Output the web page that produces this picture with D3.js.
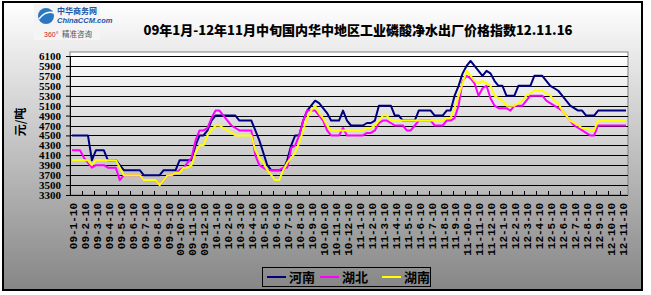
<!DOCTYPE html>
<html>
<head>
<meta charset="utf-8">
<script src="https://cdn.jsdelivr.net/npm/d3@7"></script>
<style>
  body { margin: 0; background: #fff; }
  svg { display: block; }
</style>
</head>
<body>
<svg width="651" height="295"></svg>
<script>
// x轴标签（每3个点一个）
const tickLabels = [
  "09-1-10","09-2-10","09-3-10","09-4-10","09-5-10","09-6-10","09-7-10","09-8-10","09-9-10","09-10-10","09-11-10","09-12-10",
  "10-1-10","10-2-10","10-3-10","10-4-10","10-5-10","10-6-10","10-7-10","10-8-10","10-9-10","10-10-10","10-11-10","10-12-10",
  "11-1-10","11-2-10","11-3-10","11-4-10","11-5-10","11-6-10","11-7-10","11-8-10","11-9-10","11-10-10","11-11-10","11-12-10",
  "12-1-10","12-2-10","12-3-10","12-4-10","12-5-10","12-6-10","12-7-10","12-8-10","12-9-10","12-10-10","12-11-10"
];
const yTicks = [3300, 3500, 3700, 3900, 4100, 4300, 4500, 4700, 4900, 5100, 5300, 5500, 5700, 5900, 6100];

const seriesNames = ["河南", "湖北", "湖南"];
const seriesColors = ["#000080", "#ff00ff", "#ffff00"];

// 河南
const henan = [
  4500,4500,4500,4500,4500,4000,4200,4200,4200,4000,
  4000,4000,3900,3800,3800,3800,3800,3800,3700,3700,
  3700,3700,3700,3800,3800,3800,3800,4000,4000,4000,
  4000,4300,4500,4500,4600,4800,4900,4900,4900,4900,
  4900,4900,4800,4800,4800,4800,4600,4400,4150,3900,
  3800,3800,3800,3800,4000,4300,4500,4500,4800,5000,
  5100,5200,5150,5050,4950,4800,4800,4800,5000,4800,
  4700,4700,4700,4700,4750,4750,4800,5100,5100,5100,
  5100,4900,4900,4800,4800,4800,4800,5000,5000,5000,
  5000,4900,4900,4900,5000,5000,5300,5500,5750,5900,
  6000,5900,5800,5700,5800,5750,5600,5500,5500,5300,
  5300,5300,5500,5500,5500,5500,5700,5700,5700,5600,
  5500,5450,5400,5300,5200,5100,5050,5000,5000,4900,
  4900,4900,5000,5000,5000,5000,5000,5000,5000,5000
];
// 湖北
const hubei = [
  4200,4200,4200,4050,3950,3850,3900,3900,3900,3850,
  3850,3850,3600,3700,3700,3700,3700,3700,3600,3600,
  3600,3600,3500,3600,3700,3700,3750,3800,3850,3950,
  4050,4400,4600,4600,4650,4850,5000,5000,4900,4800,
  4700,4650,4600,4600,4600,4600,4100,3900,3850,3800,
  3800,3800,3800,3850,3850,4250,4300,4500,4800,5000,
  5000,5000,4900,4800,4600,4500,4500,4500,4650,4500,
  4500,4500,4500,4500,4550,4550,4600,4750,4800,4800,
  4750,4700,4700,4700,4600,4600,4700,4800,4800,4800,
  4800,4700,4700,4700,4800,4800,4850,5100,5600,5700,
  5650,5550,5300,5450,5500,5250,5100,5050,5050,5050,
  5000,5100,5100,5100,5200,5300,5300,5300,5300,5200,
  5150,5100,5050,5000,4900,4800,4700,4650,4600,4550,
  4500,4500,4700,4700,4700,4700,4700,4700,4700,4700
];
// 湖南
const hunan = [
  4000,4000,4000,4000,4000,3900,4000,4000,4000,4000,
  4000,4000,3850,3700,3700,3700,3700,3700,3600,3600,
  3600,3600,3500,3600,3700,3700,3750,3750,3850,3850,
  3900,4150,4300,4300,4500,4600,4700,4700,4650,4600,
  4550,4500,4500,4500,4500,4500,4200,4050,3950,3800,
  3700,3600,3600,3800,3950,4050,4150,4350,4600,4850,
  5000,5100,4950,4850,4700,4600,4600,4600,4600,4600,
  4600,4600,4600,4600,4650,4650,4700,4800,4900,4900,
  4800,4800,4800,4800,4800,4800,4800,4800,4800,4800,
  4800,4800,4800,4800,4850,4850,5050,5300,5550,5800,
  5700,5600,5550,5600,5550,5500,5300,5250,5200,5100,
  5100,5100,5150,5200,5300,5350,5400,5400,5400,5350,
  5300,5200,5150,5000,4900,4800,4750,4700,4650,4650,
  4600,4600,4800,4800,4800,4800,4800,4800,4800,4800
];

const series = [henan, hubei, hunan];

const svg = d3.select("svg");

//绘图区
const plotL = 70, plotR = 628, plotT = 52, plotB = 195;

const defs = svg.append("defs");
const bg = defs.append("linearGradient").attr("id", "bg")
  .attr("x1", 0).attr("y1", 0).attr("x2", 0).attr("y2", 1);
bg.append("stop").attr("offset", "0%").attr("stop-color", "#ffffff");
bg.append("stop").attr("offset", "100%").attr("stop-color", "#868686");
const pbg = defs.append("linearGradient").attr("id", "pbg")
  .attr("x1", 0).attr("y1", 0).attr("x2", 0).attr("y2", 1);
pbg.append("stop").attr("offset", "0%").attr("stop-color", "#ffffff");
pbg.append("stop").attr("offset", "100%").attr("stop-color", "#b8b8b8");

// 外框
svg.append("rect")
  .attr("x", 3).attr("y", 2).attr("width", 639).attr("height", 288)
  .attr("fill", "url(#bg)").attr("stroke", "#000").attr("stroke-width", 2);

// logo
const logo = svg.append("g");
logo.append("rect").attr("x", 34).attr("y", 4).attr("width", 66).attr("height", 36)
  .attr("fill", "#f4f4f4");
logo.append("circle").attr("cx", 46).attr("cy", 16).attr("r", 8).attr("fill", "#2a78c2");
logo.append("path").attr("d", "M39,19 Q46,10 54,13").attr("stroke", "#fff")
  .attr("stroke-width", 1.5).attr("fill", "none");
logo.append("text").attr("x", 57).attr("y", 14).text("中华商务网")
  .attr("font-family", "Noto Sans CJK SC").attr("font-size", 8).attr("font-weight", "bold").attr("fill", "#1b55a8");
logo.append("text").attr("x", 57).attr("y", 23).text("ChinaCCM.com")
  .attr("font-family", "Liberation Sans").attr("font-size", 7.5).attr("font-weight", "bold").attr("font-style", "italic").attr("fill", "#1b55a8");
logo.append("text").attr("x", 44).attr("y", 37).text("360°")
  .attr("font-family", "Liberation Sans").attr("font-size", 7).attr("fill", "#d02020");
logo.append("text").attr("x", 62).attr("y", 37).text("精准咨询")
  .attr("font-family", "Noto Sans CJK SC").attr("font-size", 7.5).attr("fill", "#555");

// 标题
svg.append("text")
  .attr("x", 358).attr("y", 35)
  .attr("text-anchor", "middle")
  .attr("font-family", "Noto Sans CJK SC")
  .attr("font-weight", "900")
  .attr("font-size", 13)
  .text("09年1月-12年11月中旬国内华中地区工业磷酸净水出厂价格指数12.11.16");

const x = d3.scaleBand().domain(d3.range(henan.length)).range([plotL, plotR]);
const y = d3.scaleLinear().domain([3300, 6100]).range([plotB, 56]);

svg.append("rect")
  .attr("x", plotL).attr("y", plotT).attr("width", plotR - plotL).attr("height", plotB - plotT)
  .attr("fill", "url(#pbg)").attr("stroke", "#808080").attr("stroke-width", 1);

// 网格线
svg.append("g").selectAll("line").data(yTicks).join("line")
  .attr("x1", plotL).attr("x2", plotR)
  .attr("y1", d => Math.round(y(d)) + 0.5).attr("y2", d => Math.round(y(d)) + 0.5)
  .attr("stroke", "#000").attr("stroke-width", 1);

// y轴
const yAxis = svg.append("g")
  .attr("transform", `translate(${plotL},0)`)
  .call(d3.axisLeft(y).tickValues(yTicks).tickSize(4).tickSizeOuter(0).tickFormat(d3.format("d")));
yAxis.select(".domain").attr("stroke", "#000");
yAxis.selectAll(".tick line").attr("stroke", "#000");
yAxis.selectAll("text")
  .attr("font-family", "Liberation Serif").attr("font-weight", "bold").attr("font-size", 11)
  .attr("fill", "#000").attr("x", -9);

// x轴
svg.append("line").attr("x1", plotL).attr("x2", plotR)
  .attr("y1", plotB + 0.5).attr("y2", plotB + 0.5).attr("stroke", "#000");

const tickIdx = d3.range(0, henan.length, 3);
svg.append("g").selectAll("line").data(tickIdx).join("line")
  .attr("x1", d => Math.round(x(d)) + 0.5).attr("x2", d => Math.round(x(d)) + 0.5)
  .attr("y1", plotB - 4).attr("y2", plotB)
  .attr("stroke", "#000");

svg.append("g").selectAll("text").data(tickLabels).join("text")
  .attr("transform", (d, k) => `translate(${x(k * 3) + x.bandwidth() / 2 + 1},203) rotate(-90)`)
  .attr("text-anchor", "end")
  .attr("dy", "0.35em")
  .attr("font-family", "Liberation Mono")
  .attr("font-weight", "bold")
  .attr("font-size", 11)
  .text(d => d);

// 纵轴标题
svg.append("text")
  .attr("transform", "translate(21,122) rotate(-90)")
  .attr("text-anchor", "middle")
  .attr("dy", "0.35em")
  .attr("font-family", "Noto Sans CJK SC")
  .attr("font-weight", "bold")
  .attr("font-size", 12)
  .text("元/吨");

// 折线
const line = d3.line()
  .x((d, i) => x(i) + x.bandwidth() / 2)
  .y(d => y(d));

series.forEach((s, k) => {
  svg.append("path")
    .attr("d", line(s))
    .attr("fill", "none")
    .attr("stroke", seriesColors[k])
    .attr("stroke-width", 2)
    .attr("stroke-linejoin", "round");
});

// 图例
svg.append("rect").attr("x", 262.5).attr("y", 267.5).attr("width", 168).attr("height", 19)
  .attr("fill", "none").attr("stroke", "#000");
const legX = [267, 320, 382];
const leg = svg.append("g").selectAll("g").data(seriesNames).join("g")
  .attr("transform", (d, i) => `translate(${legX[i]},277)`);
leg.append("line").attr("x1", 0).attr("x2", 19).attr("y1", 0).attr("y2", 0)
  .attr("stroke", (d, i) => seriesColors[i]).attr("stroke-width", 2);
leg.append("text").attr("x", 22).attr("dy", "0.38em")
  .attr("font-family", "Noto Sans CJK SC").attr("font-weight", "bold").attr("font-size", 13)
  .text(d => d);
</script>
</body>
</html>
